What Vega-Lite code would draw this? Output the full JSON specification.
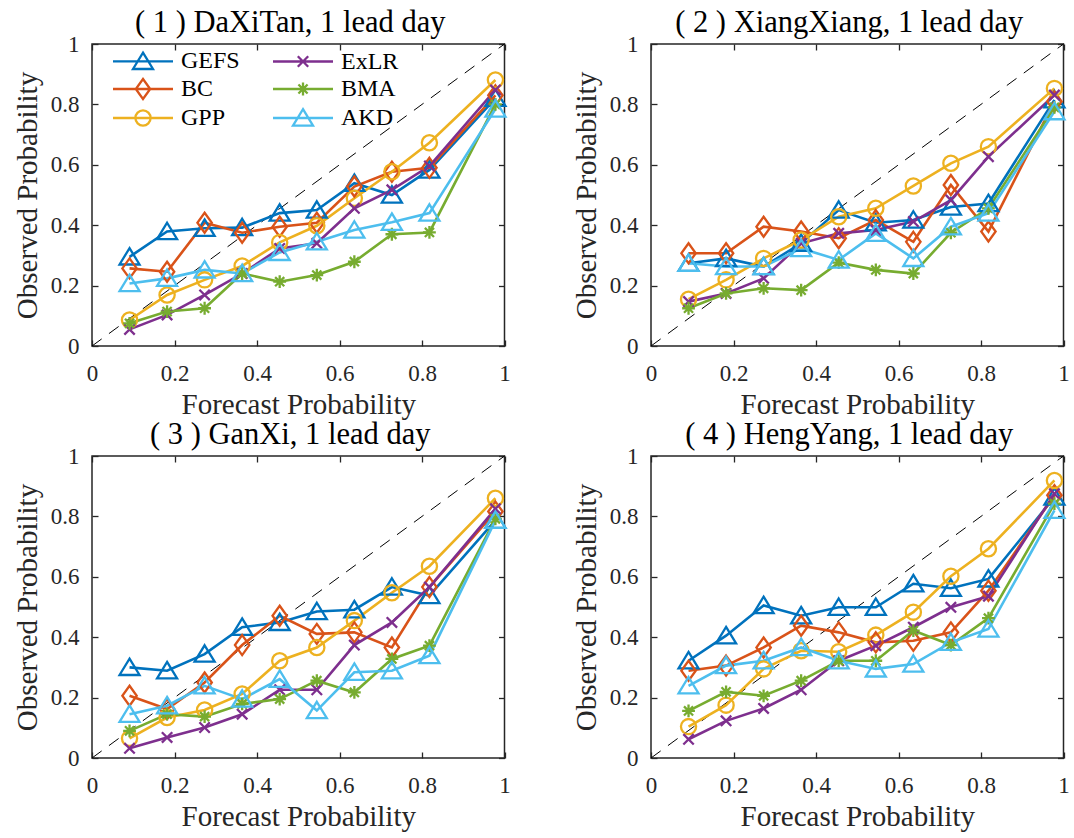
{
  "$schema": "https://vega.github.io/schema/vega-lite/v6.json",
  "background": "white",
  "padding": {"left": 12, "top": 6, "right": 4, "bottom": 4},
  "datasets": {
    "rel": [
      {"p":1,"m":"GEFS","x":0.091,"y":0.295},{"p":1,"m":"GEFS","x":0.182,"y":0.379},{"p":1,"m":"GEFS","x":0.273,"y":0.39},{"p":1,"m":"GEFS","x":0.364,"y":0.392},{"p":1,"m":"GEFS","x":0.455,"y":0.44},{"p":1,"m":"GEFS","x":0.545,"y":0.45},{"p":1,"m":"GEFS","x":0.636,"y":0.539},{"p":1,"m":"GEFS","x":0.727,"y":0.5},{"p":1,"m":"GEFS","x":0.818,"y":0.583},{"p":1,"m":"GEFS","x":0.978,"y":0.82},
      {"p":1,"m":"BC","x":0.091,"y":0.257},{"p":1,"m":"BC","x":0.182,"y":0.246},{"p":1,"m":"BC","x":0.273,"y":0.408},{"p":1,"m":"BC","x":0.364,"y":0.375},{"p":1,"m":"BC","x":0.455,"y":0.395},{"p":1,"m":"BC","x":0.545,"y":0.408},{"p":1,"m":"BC","x":0.636,"y":0.528},{"p":1,"m":"BC","x":0.727,"y":0.577},{"p":1,"m":"BC","x":0.818,"y":0.59},{"p":1,"m":"BC","x":0.978,"y":0.83},
      {"p":1,"m":"GPP","x":0.091,"y":0.086},{"p":1,"m":"GPP","x":0.182,"y":0.169},{"p":1,"m":"GPP","x":0.273,"y":0.219},{"p":1,"m":"GPP","x":0.364,"y":0.265},{"p":1,"m":"GPP","x":0.455,"y":0.343},{"p":1,"m":"GPP","x":0.545,"y":0.398},{"p":1,"m":"GPP","x":0.636,"y":0.489},{"p":1,"m":"GPP","x":0.727,"y":0.577},{"p":1,"m":"GPP","x":0.818,"y":0.673},{"p":1,"m":"GPP","x":0.978,"y":0.881},
      {"p":1,"m":"ExLR","x":0.091,"y":0.055},{"p":1,"m":"ExLR","x":0.182,"y":0.103},{"p":1,"m":"ExLR","x":0.273,"y":0.169},{"p":1,"m":"ExLR","x":0.364,"y":0.24},{"p":1,"m":"ExLR","x":0.455,"y":0.323},{"p":1,"m":"ExLR","x":0.545,"y":0.34},{"p":1,"m":"ExLR","x":0.636,"y":0.456},{"p":1,"m":"ExLR","x":0.727,"y":0.517},{"p":1,"m":"ExLR","x":0.818,"y":0.596},{"p":1,"m":"ExLR","x":0.978,"y":0.848},
      {"p":1,"m":"BMA","x":0.091,"y":0.075},{"p":1,"m":"BMA","x":0.182,"y":0.114},{"p":1,"m":"BMA","x":0.273,"y":0.125},{"p":1,"m":"BMA","x":0.364,"y":0.24},{"p":1,"m":"BMA","x":0.455,"y":0.213},{"p":1,"m":"BMA","x":0.545,"y":0.235},{"p":1,"m":"BMA","x":0.636,"y":0.279},{"p":1,"m":"BMA","x":0.727,"y":0.37},{"p":1,"m":"BMA","x":0.818,"y":0.376},{"p":1,"m":"BMA","x":0.978,"y":0.8},
      {"p":1,"m":"AKD","x":0.091,"y":0.207},{"p":1,"m":"AKD","x":0.182,"y":0.224},{"p":1,"m":"AKD","x":0.273,"y":0.252},{"p":1,"m":"AKD","x":0.364,"y":0.24},{"p":1,"m":"AKD","x":0.455,"y":0.31},{"p":1,"m":"AKD","x":0.545,"y":0.345},{"p":1,"m":"AKD","x":0.636,"y":0.384},{"p":1,"m":"AKD","x":0.727,"y":0.41},{"p":1,"m":"AKD","x":0.818,"y":0.44},{"p":1,"m":"AKD","x":0.978,"y":0.785},

      {"p":2,"m":"GEFS","x":0.091,"y":0.274},{"p":2,"m":"GEFS","x":0.182,"y":0.29},{"p":2,"m":"GEFS","x":0.273,"y":0.263},{"p":2,"m":"GEFS","x":0.364,"y":0.34},{"p":2,"m":"GEFS","x":0.455,"y":0.45},{"p":2,"m":"GEFS","x":0.545,"y":0.408},{"p":2,"m":"GEFS","x":0.636,"y":0.417},{"p":2,"m":"GEFS","x":0.727,"y":0.46},{"p":2,"m":"GEFS","x":0.818,"y":0.472},{"p":2,"m":"GEFS","x":0.978,"y":0.815},
      {"p":2,"m":"BC","x":0.091,"y":0.307},{"p":2,"m":"BC","x":0.182,"y":0.307},{"p":2,"m":"BC","x":0.273,"y":0.395},{"p":2,"m":"BC","x":0.364,"y":0.379},{"p":2,"m":"BC","x":0.455,"y":0.357},{"p":2,"m":"BC","x":0.545,"y":0.417},{"p":2,"m":"BC","x":0.636,"y":0.345},{"p":2,"m":"BC","x":0.727,"y":0.533},{"p":2,"m":"BC","x":0.818,"y":0.379},{"p":2,"m":"BC","x":0.978,"y":0.81},
      {"p":2,"m":"GPP","x":0.091,"y":0.155},{"p":2,"m":"GPP","x":0.182,"y":0.219},{"p":2,"m":"GPP","x":0.273,"y":0.29},{"p":2,"m":"GPP","x":0.364,"y":0.351},{"p":2,"m":"GPP","x":0.455,"y":0.428},{"p":2,"m":"GPP","x":0.545,"y":0.456},{"p":2,"m":"GPP","x":0.636,"y":0.53},{"p":2,"m":"GPP","x":0.727,"y":0.605},{"p":2,"m":"GPP","x":0.818,"y":0.66},{"p":2,"m":"GPP","x":0.978,"y":0.853},
      {"p":2,"m":"ExLR","x":0.091,"y":0.147},{"p":2,"m":"ExLR","x":0.182,"y":0.174},{"p":2,"m":"ExLR","x":0.273,"y":0.224},{"p":2,"m":"ExLR","x":0.364,"y":0.34},{"p":2,"m":"ExLR","x":0.455,"y":0.373},{"p":2,"m":"ExLR","x":0.545,"y":0.384},{"p":2,"m":"ExLR","x":0.636,"y":0.412},{"p":2,"m":"ExLR","x":0.727,"y":0.483},{"p":2,"m":"ExLR","x":0.818,"y":0.627},{"p":2,"m":"ExLR","x":0.978,"y":0.831},
      {"p":2,"m":"BMA","x":0.091,"y":0.125},{"p":2,"m":"BMA","x":0.182,"y":0.174},{"p":2,"m":"BMA","x":0.273,"y":0.191},{"p":2,"m":"BMA","x":0.364,"y":0.185},{"p":2,"m":"BMA","x":0.455,"y":0.276},{"p":2,"m":"BMA","x":0.545,"y":0.252},{"p":2,"m":"BMA","x":0.636,"y":0.24},{"p":2,"m":"BMA","x":0.727,"y":0.375},{"p":2,"m":"BMA","x":0.818,"y":0.456},{"p":2,"m":"BMA","x":0.978,"y":0.79},
      {"p":2,"m":"AKD","x":0.091,"y":0.274},{"p":2,"m":"AKD","x":0.182,"y":0.263},{"p":2,"m":"AKD","x":0.273,"y":0.263},{"p":2,"m":"AKD","x":0.364,"y":0.323},{"p":2,"m":"AKD","x":0.455,"y":0.285},{"p":2,"m":"AKD","x":0.545,"y":0.373},{"p":2,"m":"AKD","x":0.636,"y":0.29},{"p":2,"m":"AKD","x":0.727,"y":0.395},{"p":2,"m":"AKD","x":0.818,"y":0.44},{"p":2,"m":"AKD","x":0.978,"y":0.776},

      {"p":3,"m":"GEFS","x":0.091,"y":0.3},{"p":3,"m":"GEFS","x":0.182,"y":0.289},{"p":3,"m":"GEFS","x":0.273,"y":0.344},{"p":3,"m":"GEFS","x":0.364,"y":0.433},{"p":3,"m":"GEFS","x":0.455,"y":0.449},{"p":3,"m":"GEFS","x":0.545,"y":0.485},{"p":3,"m":"GEFS","x":0.636,"y":0.491},{"p":3,"m":"GEFS","x":0.727,"y":0.566},{"p":3,"m":"GEFS","x":0.818,"y":0.538},{"p":3,"m":"GEFS","x":0.978,"y":0.787},
      {"p":3,"m":"BC","x":0.091,"y":0.206},{"p":3,"m":"BC","x":0.182,"y":0.162},{"p":3,"m":"BC","x":0.273,"y":0.25},{"p":3,"m":"BC","x":0.364,"y":0.374},{"p":3,"m":"BC","x":0.455,"y":0.471},{"p":3,"m":"BC","x":0.545,"y":0.411},{"p":3,"m":"BC","x":0.636,"y":0.416},{"p":3,"m":"BC","x":0.727,"y":0.366},{"p":3,"m":"BC","x":0.818,"y":0.566},{"p":3,"m":"BC","x":0.978,"y":0.816},
      {"p":3,"m":"GPP","x":0.091,"y":0.065},{"p":3,"m":"GPP","x":0.182,"y":0.134},{"p":3,"m":"GPP","x":0.273,"y":0.159},{"p":3,"m":"GPP","x":0.364,"y":0.212},{"p":3,"m":"GPP","x":0.455,"y":0.322},{"p":3,"m":"GPP","x":0.545,"y":0.366},{"p":3,"m":"GPP","x":0.636,"y":0.455},{"p":3,"m":"GPP","x":0.727,"y":0.547},{"p":3,"m":"GPP","x":0.818,"y":0.635},{"p":3,"m":"GPP","x":0.978,"y":0.86},
      {"p":3,"m":"ExLR","x":0.091,"y":0.032},{"p":3,"m":"ExLR","x":0.182,"y":0.068},{"p":3,"m":"ExLR","x":0.273,"y":0.101},{"p":3,"m":"ExLR","x":0.364,"y":0.145},{"p":3,"m":"ExLR","x":0.455,"y":0.226},{"p":3,"m":"ExLR","x":0.545,"y":0.226},{"p":3,"m":"ExLR","x":0.636,"y":0.374},{"p":3,"m":"ExLR","x":0.727,"y":0.449},{"p":3,"m":"ExLR","x":0.818,"y":0.566},{"p":3,"m":"ExLR","x":0.978,"y":0.825},
      {"p":3,"m":"BMA","x":0.091,"y":0.09},{"p":3,"m":"BMA","x":0.182,"y":0.145},{"p":3,"m":"BMA","x":0.273,"y":0.137},{"p":3,"m":"BMA","x":0.364,"y":0.179},{"p":3,"m":"BMA","x":0.455,"y":0.195},{"p":3,"m":"BMA","x":0.545,"y":0.256},{"p":3,"m":"BMA","x":0.636,"y":0.217},{"p":3,"m":"BMA","x":0.727,"y":0.328},{"p":3,"m":"BMA","x":0.818,"y":0.372},{"p":3,"m":"BMA","x":0.978,"y":0.792},
      {"p":3,"m":"AKD","x":0.091,"y":0.145},{"p":3,"m":"AKD","x":0.182,"y":0.173},{"p":3,"m":"AKD","x":0.273,"y":0.239},{"p":3,"m":"AKD","x":0.364,"y":0.195},{"p":3,"m":"AKD","x":0.455,"y":0.261},{"p":3,"m":"AKD","x":0.545,"y":0.157},{"p":3,"m":"AKD","x":0.636,"y":0.284},{"p":3,"m":"AKD","x":0.727,"y":0.289},{"p":3,"m":"AKD","x":0.818,"y":0.339},{"p":3,"m":"AKD","x":0.978,"y":0.787},

      {"p":4,"m":"GEFS","x":0.091,"y":0.322},{"p":4,"m":"GEFS","x":0.182,"y":0.405},{"p":4,"m":"GEFS","x":0.273,"y":0.505},{"p":4,"m":"GEFS","x":0.364,"y":0.471},{"p":4,"m":"GEFS","x":0.455,"y":0.499},{"p":4,"m":"GEFS","x":0.545,"y":0.499},{"p":4,"m":"GEFS","x":0.636,"y":0.577},{"p":4,"m":"GEFS","x":0.727,"y":0.562},{"p":4,"m":"GEFS","x":0.818,"y":0.593},{"p":4,"m":"GEFS","x":0.978,"y":0.864},
      {"p":4,"m":"BC","x":0.091,"y":0.289},{"p":4,"m":"BC","x":0.182,"y":0.306},{"p":4,"m":"BC","x":0.273,"y":0.366},{"p":4,"m":"BC","x":0.364,"y":0.438},{"p":4,"m":"BC","x":0.455,"y":0.416},{"p":4,"m":"BC","x":0.545,"y":0.383},{"p":4,"m":"BC","x":0.636,"y":0.388},{"p":4,"m":"BC","x":0.727,"y":0.416},{"p":4,"m":"BC","x":0.818,"y":0.554},{"p":4,"m":"BC","x":0.978,"y":0.87},
      {"p":4,"m":"GPP","x":0.091,"y":0.104},{"p":4,"m":"GPP","x":0.182,"y":0.175},{"p":4,"m":"GPP","x":0.273,"y":0.295},{"p":4,"m":"GPP","x":0.364,"y":0.355},{"p":4,"m":"GPP","x":0.455,"y":0.352},{"p":4,"m":"GPP","x":0.545,"y":0.407},{"p":4,"m":"GPP","x":0.636,"y":0.483},{"p":4,"m":"GPP","x":0.727,"y":0.602},{"p":4,"m":"GPP","x":0.818,"y":0.693},{"p":4,"m":"GPP","x":0.978,"y":0.919},
      {"p":4,"m":"ExLR","x":0.091,"y":0.062},{"p":4,"m":"ExLR","x":0.182,"y":0.123},{"p":4,"m":"ExLR","x":0.273,"y":0.164},{"p":4,"m":"ExLR","x":0.364,"y":0.226},{"p":4,"m":"ExLR","x":0.455,"y":0.322},{"p":4,"m":"ExLR","x":0.545,"y":0.372},{"p":4,"m":"ExLR","x":0.636,"y":0.433},{"p":4,"m":"ExLR","x":0.727,"y":0.499},{"p":4,"m":"ExLR","x":0.818,"y":0.536},{"p":4,"m":"ExLR","x":0.978,"y":0.875},
      {"p":4,"m":"BMA","x":0.091,"y":0.156},{"p":4,"m":"BMA","x":0.182,"y":0.219},{"p":4,"m":"BMA","x":0.273,"y":0.206},{"p":4,"m":"BMA","x":0.364,"y":0.256},{"p":4,"m":"BMA","x":0.455,"y":0.322},{"p":4,"m":"BMA","x":0.545,"y":0.322},{"p":4,"m":"BMA","x":0.636,"y":0.422},{"p":4,"m":"BMA","x":0.727,"y":0.374},{"p":4,"m":"BMA","x":0.818,"y":0.463},{"p":4,"m":"BMA","x":0.978,"y":0.842},
      {"p":4,"m":"AKD","x":0.091,"y":0.239},{"p":4,"m":"AKD","x":0.182,"y":0.306},{"p":4,"m":"AKD","x":0.273,"y":0.322},{"p":4,"m":"AKD","x":0.364,"y":0.366},{"p":4,"m":"AKD","x":0.455,"y":0.322},{"p":4,"m":"AKD","x":0.545,"y":0.295},{"p":4,"m":"AKD","x":0.636,"y":0.311},{"p":4,"m":"AKD","x":0.727,"y":0.383},{"p":4,"m":"AKD","x":0.818,"y":0.427},{"p":4,"m":"AKD","x":0.978,"y":0.82}
    ]
  },
  "config": {
    "font": "Liberation Serif",
    "view": {"stroke": "#262626", "strokeWidth": 1.5},
    "axis": {"grid": false, "domain": false, "labelFlush": false, "tickColor": "#262626", "tickSize": -6, "tickWidth": 1.3, "labelFont": "Liberation Serif", "labelFontSize": 23, "labelColor": "#262626", "titleFont": "Liberation Serif", "titleFontSize": 29, "titleColor": "#262626", "titleFontWeight": "normal"},
    "axisBottom": {"labelPadding": 22, "titlePadding": 5},
    "axisLeft": {"labelPadding": 19, "titlePadding": 8},
    "title": {"font": "Liberation Serif", "fontSize": 30.5, "fontWeight": "normal", "color": "#000000", "offset": -5, "dx": -8}
  },
  "columns": 2,
  "spacing": {"row": 110, "column": 146},
  "bounds": "flush",
  "resolve": {"legend": {"color": "independent", "shape": "independent"}},
  "concat": [
    {
      "width": 412.5, "height": 302,
      "title": "( 1 ) DaXiTan, 1 lead day",
      "data": {"name": "rel"},
      "transform": [{"filter": {"field": "p", "equal": 1}}],
      "layer": [
        {"data": {"values": [{}]}, "mark": {"type": "rule", "strokeDash": [12, 9], "color": "#000000", "strokeWidth": 1},
         "encoding": {
           "x": {"datum": 0, "type": "quantitative", "scale": {"domain": [0, 1], "nice": false}, "axis": {"orient": "top", "values": [0, 0.2, 0.4, 0.6, 0.8, 1], "labels": false, "title": null}},
           "y": {"datum": 0, "type": "quantitative", "scale": {"domain": [0, 1], "nice": false}, "axis": {"orient": "right", "values": [0, 0.2, 0.4, 0.6, 0.8, 1], "labels": false, "title": null}},
           "x2": {"datum": 1}, "y2": {"datum": 1}}},
        {"mark": {"type": "line", "strokeWidth": 2.6},
         "encoding": {
           "x": {"field": "x", "type": "quantitative", "axis": {"orient": "bottom", "values": [0, 0.2, 0.4, 0.6, 0.8, 1], "format": "~g", "title": "Forecast Probability"}},
           "y": {"field": "y", "type": "quantitative", "axis": {"orient": "left", "values": [0, 0.2, 0.4, 0.6, 0.8, 1], "format": "~g", "title": "Observed Probability"}},
           "color": {"field": "m", "type": "nominal", "scale": {"domain": ["GEFS", "BC", "GPP", "ExLR", "BMA", "AKD"], "range": ["#0072BD", "#D95319", "#EDB120", "#7E2F8E", "#77AC30", "#4DBEEE"]}}}},
        {"mark": {"type": "point", "filled": false, "size": 256, "strokeWidth": 2.3, "opacity": 1},
         "encoding": {
           "x": {"field": "x", "type": "quantitative", "axis": null},
           "y": {"field": "y", "type": "quantitative", "axis": null},
           "color": {"field": "m", "type": "nominal", "legend": {"orient": "none", "legendX": 18, "legendY": 5, "columns": 2, "title": null, "padding": 0, "labelFont": "Liberation Serif", "labelFontSize": 24, "labelColor": "#000000", "symbolSize": 256, "symbolStrokeWidth": 2.3, "symbolOffset": 21, "labelOffset": 26, "columnPadding": 28, "rowPadding": 0,
             "encoding": {"symbols": {"shape": {"condition": [
               {"test": "datum.value === 'BC'", "value": "M-3.75,0H3.75M0,-1.25L0.9,0L0,1.25L-0.9,0Z"},
               {"test": "datum.value === 'GPP'", "value": "M-3.75,0H3.75M0.95,0A0.95,0.95,0,1,1,-0.95,0A0.95,0.95,0,1,1,0.95,0Z"},
               {"test": "datum.value === 'ExLR'", "value": "M-3.75,0H3.75M-0.65,-0.65L0.65,0.65M-0.65,0.65L0.65,-0.65"},
               {"test": "datum.value === 'BMA'", "value": "M-3.75,0H3.75M-0.8,0H0.8M0,-0.8V0.8M-0.57,-0.57L0.57,0.57M-0.57,0.57L0.57,-0.57"}],
               "value": "M-3.75,0H3.75M0,-1.1L1.25,0.95L-1.25,0.95Z"}}}}},
           "shape": {"field": "m", "type": "nominal", "scale": {"range": ["M0,-1.1L1.25,0.95L-1.25,0.95Z", "M0,-1.25L0.9,0L0,1.25L-0.9,0Z", "M-0.8,0H0.8M0,-0.8V0.8M-0.57,-0.57L0.57,0.57M-0.57,0.57L0.57,-0.57", "M-0.65,-0.65L0.65,0.65M-0.65,0.65L0.65,-0.65", "M0,-1.1L1.25,0.95L-1.25,0.95Z", "M0.95,0A0.95,0.95,0,1,1,-0.95,0A0.95,0.95,0,1,1,0.95,0Z"]}, "legend": null}}}
      ]
    },
    {
      "width": 412.5, "height": 302,
      "title": "( 2 ) XiangXiang, 1 lead day",
      "data": {"name": "rel"},
      "transform": [{"filter": {"field": "p", "equal": 2}}],
      "layer": [
        {"data": {"values": [{}]}, "mark": {"type": "rule", "strokeDash": [12, 9], "color": "#000000", "strokeWidth": 1},
         "encoding": {
           "x": {"datum": 0, "type": "quantitative", "scale": {"domain": [0, 1], "nice": false}, "axis": {"orient": "top", "values": [0, 0.2, 0.4, 0.6, 0.8, 1], "labels": false, "title": null}},
           "y": {"datum": 0, "type": "quantitative", "scale": {"domain": [0, 1], "nice": false}, "axis": {"orient": "right", "values": [0, 0.2, 0.4, 0.6, 0.8, 1], "labels": false, "title": null}},
           "x2": {"datum": 1}, "y2": {"datum": 1}}},
        {"mark": {"type": "line", "strokeWidth": 2.6},
         "encoding": {
           "x": {"field": "x", "type": "quantitative", "axis": {"orient": "bottom", "values": [0, 0.2, 0.4, 0.6, 0.8, 1], "format": "~g", "title": "Forecast Probability"}},
           "y": {"field": "y", "type": "quantitative", "axis": {"orient": "left", "values": [0, 0.2, 0.4, 0.6, 0.8, 1], "format": "~g", "title": "Observed Probability"}},
           "color": {"field": "m", "type": "nominal", "legend": null}}},
        {"mark": {"type": "point", "filled": false, "size": 256, "strokeWidth": 2.3, "opacity": 1},
         "encoding": {
           "x": {"field": "x", "type": "quantitative", "axis": null},
           "y": {"field": "y", "type": "quantitative", "axis": null},
           "color": {"field": "m", "type": "nominal", "legend": null},
           "shape": {"field": "m", "type": "nominal", "legend": null}}}
      ]
    },
    {
      "width": 412.5, "height": 302,
      "title": "( 3 ) GanXi, 1 lead day",
      "data": {"name": "rel"},
      "transform": [{"filter": {"field": "p", "equal": 3}}],
      "layer": [
        {"data": {"values": [{}]}, "mark": {"type": "rule", "strokeDash": [12, 9], "color": "#000000", "strokeWidth": 1},
         "encoding": {
           "x": {"datum": 0, "type": "quantitative", "scale": {"domain": [0, 1], "nice": false}, "axis": {"orient": "top", "values": [0, 0.2, 0.4, 0.6, 0.8, 1], "labels": false, "title": null}},
           "y": {"datum": 0, "type": "quantitative", "scale": {"domain": [0, 1], "nice": false}, "axis": {"orient": "right", "values": [0, 0.2, 0.4, 0.6, 0.8, 1], "labels": false, "title": null}},
           "x2": {"datum": 1}, "y2": {"datum": 1}}},
        {"mark": {"type": "line", "strokeWidth": 2.6},
         "encoding": {
           "x": {"field": "x", "type": "quantitative", "axis": {"orient": "bottom", "values": [0, 0.2, 0.4, 0.6, 0.8, 1], "format": "~g", "title": "Forecast Probability"}},
           "y": {"field": "y", "type": "quantitative", "axis": {"orient": "left", "values": [0, 0.2, 0.4, 0.6, 0.8, 1], "format": "~g", "title": "Observed Probability"}},
           "color": {"field": "m", "type": "nominal", "legend": null}}},
        {"mark": {"type": "point", "filled": false, "size": 256, "strokeWidth": 2.3, "opacity": 1},
         "encoding": {
           "x": {"field": "x", "type": "quantitative", "axis": null},
           "y": {"field": "y", "type": "quantitative", "axis": null},
           "color": {"field": "m", "type": "nominal", "legend": null},
           "shape": {"field": "m", "type": "nominal", "legend": null}}}
      ]
    },
    {
      "width": 412.5, "height": 302,
      "title": "( 4 ) HengYang, 1 lead day",
      "data": {"name": "rel"},
      "transform": [{"filter": {"field": "p", "equal": 4}}],
      "layer": [
        {"data": {"values": [{}]}, "mark": {"type": "rule", "strokeDash": [12, 9], "color": "#000000", "strokeWidth": 1},
         "encoding": {
           "x": {"datum": 0, "type": "quantitative", "scale": {"domain": [0, 1], "nice": false}, "axis": {"orient": "top", "values": [0, 0.2, 0.4, 0.6, 0.8, 1], "labels": false, "title": null}},
           "y": {"datum": 0, "type": "quantitative", "scale": {"domain": [0, 1], "nice": false}, "axis": {"orient": "right", "values": [0, 0.2, 0.4, 0.6, 0.8, 1], "labels": false, "title": null}},
           "x2": {"datum": 1}, "y2": {"datum": 1}}},
        {"mark": {"type": "line", "strokeWidth": 2.6},
         "encoding": {
           "x": {"field": "x", "type": "quantitative", "axis": {"orient": "bottom", "values": [0, 0.2, 0.4, 0.6, 0.8, 1], "format": "~g", "title": "Forecast Probability"}},
           "y": {"field": "y", "type": "quantitative", "axis": {"orient": "left", "values": [0, 0.2, 0.4, 0.6, 0.8, 1], "format": "~g", "title": "Observed Probability"}},
           "color": {"field": "m", "type": "nominal", "legend": null}}},
        {"mark": {"type": "point", "filled": false, "size": 256, "strokeWidth": 2.3, "opacity": 1},
         "encoding": {
           "x": {"field": "x", "type": "quantitative", "axis": null},
           "y": {"field": "y", "type": "quantitative", "axis": null},
           "color": {"field": "m", "type": "nominal", "legend": null},
           "shape": {"field": "m", "type": "nominal", "legend": null}}}
      ]
    }
  ]
}
